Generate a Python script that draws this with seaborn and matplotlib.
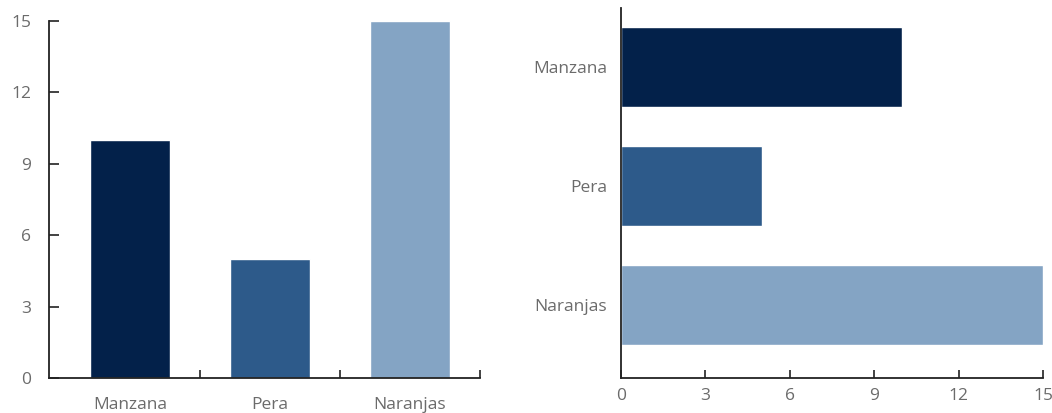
import matplotlib
matplotlib.use("Agg")
import matplotlib.pyplot as plt
import seaborn as sns
import pandas as pd

# Fruit counts
categories = ["Manzana", "Pera", "Naranjas"]
values = [10, 5, 15]
colors = ["#03214a", "#2d5a8a", "#84a4c4"]
ticks = [0, 3, 6, 9, 12, 15]

df = pd.DataFrame({"fruta": categories, "cantidad": values})
palette = dict(zip(categories, colors))

sns.set_style("white")
plt.rcParams["font.family"] = ["Open Sans", "DejaVu Sans"]

text_color = "#6b6b6b"
axis_color = "#222222"
fs = 12.5

fig = plt.figure(figsize=(10.52, 4.13), dpi=100)
ax1 = fig.add_axes([49 / 1052, 35 / 413, 431 / 1052, 357 / 413])
ax2 = fig.add_axes([621 / 1052, 35 / 413, 422 / 1052, 370 / 413])

# Vertical bars
sns.barplot(data=df, x="fruta", y="cantidad", hue="fruta", palette=palette,
            order=categories, hue_order=categories, width=0.57,
            saturation=1, legend=False, ax=ax1)
ax1.set_xlim(-0.58, 2.5)
ax1.set_ylim(0, 15)
ax1.set_yticks(ticks)
ax1.set_xticks(range(len(categories)))
ax1.set_xticklabels(categories)
ax1.set_xticks([0.5, 1.5, 2.5], minor=True)
ax1.tick_params(axis="x", which="major", length=0, pad=14, labelsize=fs, labelcolor=text_color)
ax1.tick_params(axis="x", which="minor", direction="in", length=6, width=1.2, color=axis_color, bottom=True)
ax1.tick_params(axis="y", direction="in", length=7, width=1.2, color=axis_color, pad=13,
                labelsize=fs, labelcolor=text_color, left=True)
ax1.set_xlabel("")
ax1.set_ylabel("")
for side in ["top", "right"]:
    ax1.spines[side].set_visible(False)
for side in ["left", "bottom"]:
    ax1.spines[side].set_color(axis_color)
    ax1.spines[side].set_linewidth(1.3)

# Horizontal bars
sns.barplot(data=df, x="cantidad", y="fruta", hue="fruta", palette=palette,
            order=categories, hue_order=categories, width=0.675, orient="h",
            saturation=1, legend=False, ax=ax2)
ax2.set_xlim(0, 15)
ax2.set_ylim(2.616, -0.5)
ax2.set_xticks(ticks)
ax2.tick_params(axis="x", direction="in", length=6, width=1.2, color=axis_color, pad=7,
                labelsize=fs, labelcolor=text_color, bottom=True)
ax2.tick_params(axis="y", direction="in", length=6, width=1.0, color=axis_color, pad=10,
                labelsize=fs, labelcolor=text_color, left=True)
ax2.set_xlabel("")
ax2.set_ylabel("")
for side in ["top", "right"]:
    ax2.spines[side].set_visible(False)
for side in ["left", "bottom"]:
    ax2.spines[side].set_color(axis_color)
    ax2.spines[side].set_linewidth(1.3)

fig.savefig("out.png", dpi=100)
